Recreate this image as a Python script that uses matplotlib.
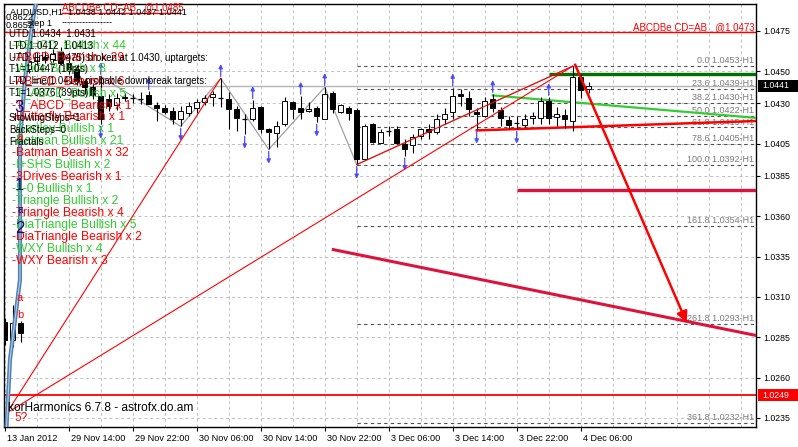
import matplotlib
matplotlib.use("Agg")
import matplotlib.pyplot as plt
import matplotlib.transforms as mtransforms
from matplotlib.patches import Rectangle

plt.rcParams['font.family'] = ['Liberation Sans', 'DejaVu Sans']

# AUDUSD H1 candles, one entry per bar (bar index = position on the time axis)
opens = [1.02946, 1.02834, 1.02939, 1.04511, 1.04561, 1.04585, 1.04573, 1.04616, 1.04548, 1.04511,
         1.04436, 1.04399, 1.04343, 1.04325, 1.04287, 1.04334, 1.04331, 1.04329, 1.04349, 1.04287,
         1.04269, 1.04252, 1.04205, 1.04238, 1.04269, 1.04306, 1.04341, 1.04331, 1.04325, 1.04262,
         1.04205, 1.04200, 1.04275, 1.04138, 1.04118, 1.04169, 1.04308, 1.04273, 1.04252, 1.04273,
         1.04205, 1.04366, 1.04246, 1.04273, 1.04258, 1.03956, 1.04169, 1.04056, 1.04128, 1.04138,
         1.04045, 1.04039, 1.04097, 1.04138, 1.04124, 1.04205, 1.04248, 1.04356, 1.04335, 1.04248,
         1.04221, 1.04325, 1.04256, 1.04198, 1.04180, 1.04165, 1.04207, 1.04207, 1.04314, 1.04215,
         1.04225, 1.04190, 1.04463, 1.04387]
highs = [1.02970, 1.03051, 1.02952, 1.04585, 1.04610, 1.04623, 1.04635, 1.04648, 1.04592, 1.04536,
         1.04449, 1.04424, 1.04467, 1.04356, 1.04362, 1.04362, 1.04356, 1.04368, 1.04374, 1.04306,
         1.04287, 1.04275, 1.04281, 1.04306, 1.04325, 1.04349, 1.04374, 1.04455, 1.04368, 1.04281,
         1.04231, 1.04318, 1.04281, 1.04144, 1.04190, 1.04337, 1.04314, 1.04345, 1.04306, 1.04283,
         1.04399, 1.04376, 1.04293, 1.04283, 1.04273, 1.04169, 1.04175, 1.04138, 1.04159, 1.04159,
         1.04076, 1.04107, 1.04149, 1.04169, 1.04231, 1.04273, 1.04397, 1.04387, 1.04376, 1.04273,
         1.04337, 1.04356, 1.04275, 1.04221, 1.04221, 1.04231, 1.04244, 1.04337, 1.04337, 1.04275,
         1.04262, 1.04530, 1.04480, 1.04434]
lows = [1.02803, 1.02790, 1.02821, 1.04486, 1.04536, 1.04548, 1.04554, 1.04536, 1.04480, 1.04411,
        1.04356, 1.04325, 1.04169, 1.04250, 1.04256, 1.04312, 1.04300, 1.04293, 1.04293, 1.04188,
        1.04231, 1.04169, 1.04157, 1.04219, 1.04238, 1.04287, 1.04281, 1.04275, 1.04138, 1.04126,
        1.04107, 1.04188, 1.04113, 1.04014, 1.04026, 1.04157, 1.04200, 1.04200, 1.04244, 1.04182,
        1.04200, 1.04242, 1.04242, 1.04196, 1.03920, 1.03952, 1.04056, 1.04051, 1.04097, 1.04045,
        1.03972, 1.03993, 1.04076, 1.04076, 1.04107, 1.04169, 1.04200, 1.04283, 1.04221, 1.04138,
        1.04213, 1.04244, 1.04159, 1.04149, 1.04138, 1.04152, 1.04169, 1.04169, 1.04169, 1.04159,
        1.04149, 1.04128, 1.04335, 1.04366]
closes = [1.02834, 1.02939, 1.02877, 1.04561, 1.04585, 1.04573, 1.04604, 1.04548, 1.04511, 1.04436,
          1.04399, 1.04349, 1.04200, 1.04281, 1.04331, 1.04340, 1.04334, 1.04331, 1.04298, 1.04269,
          1.04246, 1.04200, 1.04252, 1.04283, 1.04306, 1.04331, 1.04356, 1.04334, 1.04262, 1.04207,
          1.04202, 1.04269, 1.04138, 1.04121, 1.04159, 1.04314, 1.04267, 1.04246, 1.04267, 1.04221,
          1.04356, 1.04262, 1.04287, 1.04242, 1.03952, 1.04159, 1.04059, 1.04121, 1.04131, 1.04056,
          1.04018, 1.04093, 1.04138, 1.04120, 1.04200, 1.04236, 1.04345, 1.04345, 1.04262, 1.04231,
          1.04314, 1.04273, 1.04207, 1.04165, 1.04177, 1.04200, 1.04221, 1.04314, 1.04207, 1.04236,
          1.04200, 1.04463, 1.04380, 1.04410]

fractal_up = [12, 18, 27, 31, 37, 40, 56, 61, 68]
fractal_down = [12, 22, 30, 33, 39, 44, 50, 59, 64]

zigzag_bars = [12, 22, 27, 33, 40, 44, 71]
zigzag_prices = [highs[12], lows[22], highs[27], lows[33], highs[40], lows[44], highs[71]]

# pattern start point at the far left and the legs drawn from it
origin_bar, origin_price = 0.25, 1.02380
leg_ends = [(27, highs[27]), (71, highs[71])]
leg_cd = [(44, lows[44]), (71, highs[71])]
proj_from = (71.3, 1.04540)
proj_to = (85.25, 1.02940)

steel_bars = [0.22, 0.41, 0.66, 1.29, 1.91, 1.91, 1.91, 2.54, 3.54, 3.91]
steel_prices = [1.02293, 1.02461, 1.02710, 1.02958, 1.03207, 1.03703, 1.04076, 1.04449, 1.04821, 1.04921]

fib_pct = ['0.0', '23.6', '38.2', '50.0', '61.8', '78.6', '100.0', '161.8', '261.8', '361.8']
fib_prices = [1.0453, 1.0439, 1.0430, 1.0422, 1.0415, 1.0405, 1.0392, 1.0354, 1.0293, 1.0232]
fib_start = 44

utd_level = 1.0474
abcd_top = 1.0486
abcd_top_bars = (7, 22)
bid = 1.0441
low_line = 1.0249
target_up = 1.0448
target_up_start = 68
target_down = 1.0376
target_down_start = 64
green_trend = [(61, 1.04349), (95, 1.04205)]
red_trend = [(59, 1.04132), (95, 1.04192)]
crimson_trend = [(41.08, 1.03393), (95, 1.02850)]

price_ticks = [1.0475, 1.0450, 1.0430, 1.0405, 1.0385, 1.0360, 1.0335, 1.0310, 1.0285, 1.0260, 1.0235]
time_ticks = [0, 8, 16, 24, 32, 40, 48, 56, 64, 72]
time_labels = ['13 Jan 2012', '29 Nov 14:00', '29 Nov 22:00', '30 Nov 06:00', '30 Nov 14:00',
               '30 Nov 22:00', '3 Dec 06:00', '3 Dec 14:00', '3 Dec 22:00', '4 Dec 06:00']

pattern_names = ['-AB=CD_Bullish x 44', '-ABCD_Bearish x 29', '-Wolfe Bullish x 8', '-AB=CD_Bearish x 6',
                 '-T_ABCD_Bullish x 5', '-T_ABCD_Bearish x 1', '-Butterfly Bearish x 1', '-Gartley Bullish x 1',
                 '-Batman Bullish x 21', '-Batman Bearish x 32', '-I+SHS Bullish x 2', '-3Drives Bearish x 1',
                 '-5-0 Bullish x 1', '-Triangle Bullish x 2', '-Triangle Bearish x 4',
                 '-DiaTriangle Bullish x 5', '-DiaTriangle Bearish x 2', '-WXY Bullish x 4', '-WXY Bearish x 3']
info_lines = ['UTD 1.0434  1.0431', 'LTD 1.0412  1.0413', 'UTD_line(1.0475) broken at 1.0430, uptargets:',
              'T1=1.0447 (18pts)', 'LTD_line(1.0413) probable downbreak targets:', 'T1=1.0376 (39pts)']

W, H = 798, 447
fig = plt.figure(figsize=(W / 100, H / 100), dpi=100)
ax = fig.add_axes([4 / W, 20 / H, 752 / W, 423 / H])
ax.set_xlim(-0.0875, 93.9125)
ax.set_ylim(1.022934, 1.049155)

grid_kw = dict(color='#c0c0c0', lw=0.7, ls=(0, (3, 3)))
ax.yaxis.tick_right()
ax.set_yticks(price_ticks)
ax.set_yticklabels([f'{p:.4f}' for p in price_ticks], fontsize=6.3)
ax.set_xticks(time_ticks)
ax.set_xticklabels(time_labels, fontsize=6.6, ha='left')
ax.set_xticks(range(0, 94, 4), minor=True)
ax.tick_params(axis='both', which='major', direction='out', length=3, width=0.8, pad=2)
ax.tick_params(axis='x', which='minor', length=0)
ax.grid(True, axis='x', which='both', **grid_kw)
ax.grid(True, axis='y', which='major', **grid_kw)
ax.set_axisbelow(True)
shift = mtransforms.ScaledTranslation(2 / 100, 0, fig.dpi_scale_trans)
for lab in ax.get_xticklabels():
    lab.set_transform(lab.get_transform() + shift)
for s in ax.spines.values():
    s.set_linewidth(1)

xa_yd = mtransforms.blended_transform_factory(ax.transAxes, ax.transData)

# fibonacci projection levels
for pct, p in zip(fib_pct, fib_prices):
    ax.hlines(p, fib_start, 94, color='#505050', lw=0.8, ls=(0, (3, 3)), zorder=2)
    ax.text(0.997, p + 0.00006, f'{pct} {p:.4f}-H1', transform=xa_yd, ha='right', va='bottom',
            fontsize=6.5, color='#7a7a7a', zorder=2)

# horizontal levels
ax.axhline(bid, color='#b4b4b4', lw=1, zorder=2)
ax.axhline(utd_level, color='red', lw=1, zorder=2)
ax.axhline(low_line, color='red', lw=1.3, zorder=2)
ax.hlines(abcd_top, *abcd_top_bars, color='red', lw=1, zorder=2)
ax.hlines(target_up, target_up_start, 94, color='#007000', lw=2.4, zorder=3)
ax.hlines(target_down, target_down_start, 94, color='#dc143c', lw=2.4, zorder=3)

# trend lines
ax.plot(*zip(*green_trend), color='#32cd32', lw=1.6, zorder=3)
ax.plot(*zip(*red_trend), color='red', lw=1.8, zorder=3)
ax.plot(*zip(*crimson_trend), color='#dc143c', lw=2.2, zorder=3)

# zigzag
ax.plot(zigzag_bars, zigzag_prices, color='#a0a0a0', lw=0.9, zorder=2.5)

# candles
w = 0.6
for i, (o, h, l, c) in enumerate(zip(opens, highs, lows, closes)):
    ax.vlines(i, l, h, color='black', lw=0.8, zorder=4)
    if abs(c - o) < 0.00004:
        ax.hlines(o, i - w / 2, i + w / 2, color='black', lw=0.9, zorder=5)
    else:
        ax.add_patch(Rectangle((i - w / 2, min(o, c)), w, abs(c - o),
                               facecolor='white' if c > o else 'black',
                               edgecolor='black', lw=0.7, zorder=5))

# fractal arrows
arr = dict(arrowstyle='-|>', color='#4a4aff', lw=0.9, mutation_scale=6, shrinkA=0, shrinkB=0)
for i in fractal_up:
    ax.annotate('', xy=(i, highs[i] + 0.00088), xytext=(i, highs[i] + 0.00012), arrowprops=arr, zorder=6)
for i in fractal_down:
    ax.annotate('', xy=(i, lows[i] - 0.00088), xytext=(i, lows[i] - 0.00012), arrowprops=arr, zorder=6)

# ABCD legs
for b, p in leg_ends:
    ax.plot([origin_bar, b], [origin_price, p], color='red', lw=0.8, zorder=6)
ax.plot(*zip(*leg_cd), color='red', lw=0.8, zorder=6)
ax.annotate('', xy=proj_to, xytext=proj_from,
            arrowprops=dict(arrowstyle='-|>', color='red', lw=1.8, mutation_scale=16,
                            shrinkA=0, shrinkB=0), zorder=6)

# steel-blue wave line at the left
ax.plot(steel_bars, steel_prices, color='#4f81b4', lw=3, zorder=6, solid_capstyle='butt')
ax.plot(steel_bars, steel_prices, color='#b8cde0', lw=0.8, zorder=6)

# price boxes on the right scale
for p, fc in [(bid, 'black'), (low_line, '#ff0000')]:
    ax.add_patch(Rectangle((1.003, p - 0.00037), 0.053, 0.00074, transform=xa_yd,
                           facecolor=fc, edgecolor='none', clip_on=False, zorder=7))
    ax.text(1.008, p, f'{p:.4f}', transform=xa_yd, color='white', fontsize=6.3,
            va='center', ha='left', zorder=8, clip_on=False)


def put(x, y, s, **kw):
    kw.setdefault('va', 'center')
    kw.setdefault('ha', 'left')
    fig.text(x / W, 1 - y / H, s, **kw)


# overlay texts (image pixel positions)
put(62, 7, 'ABCDBe CD=AB   @1.0485', color='red', fontsize=7)
put(755, 27, 'ABCDBe CD=AB   @1.0473', color='red', fontsize=7, ha='right')
put(10, 12, 'AUDUSD,H1  1.0438 1.0442 1.0437 1.0441', color='black', fontsize=6.6)
put(6, 17, '0.8622', color='black', fontsize=6.6)
put(6, 26, '0.8652', color='black', fontsize=6.6)
put(27, 23, 'step 1', color='black', fontsize=6.6)
put(62, 23, '-----------------', color='black', fontsize=6.6)
for k, line in enumerate(pattern_names):
    col = '#32cd32' if 'Bullish' in line else '#ff0000'
    put(12, 45 + 12 * k, line, color=col, fontsize=8.7)
for k, line in enumerate(info_lines):
    put(9, 34 + 11.8 * k, line, color='black', fontsize=6.9)
put(9, 118, 'ShowingSteps=1', color='black', fontsize=6.9)
put(9, 130, 'BackSteps=0', color='black', fontsize=6.9)
put(9, 142, 'Fractals', color='black', fontsize=6.9)
for s, x, y in [('3', 19, 107), ('1', 19, 185), ('2', 20, 229)]:
    put(x, y, s, color='#10107a', fontsize=12, ha='center')
put(20, 210, 'a', color='#10107a', fontsize=7, ha='center')
put(20, 137, 'a', color='red', fontsize=7, ha='center')
put(20, 298, 'a', color='red', fontsize=8, ha='center')
put(20, 315, 'b', color='red', fontsize=8, ha='center')
put(21, 418, '5?', color='red', fontsize=8.5, ha='center')
put(8, 408, 'korHarmonics 6.7.8 - astrofx.do.am', color='black', fontsize=8.6)

fig.savefig('out.png', dpi=100)
